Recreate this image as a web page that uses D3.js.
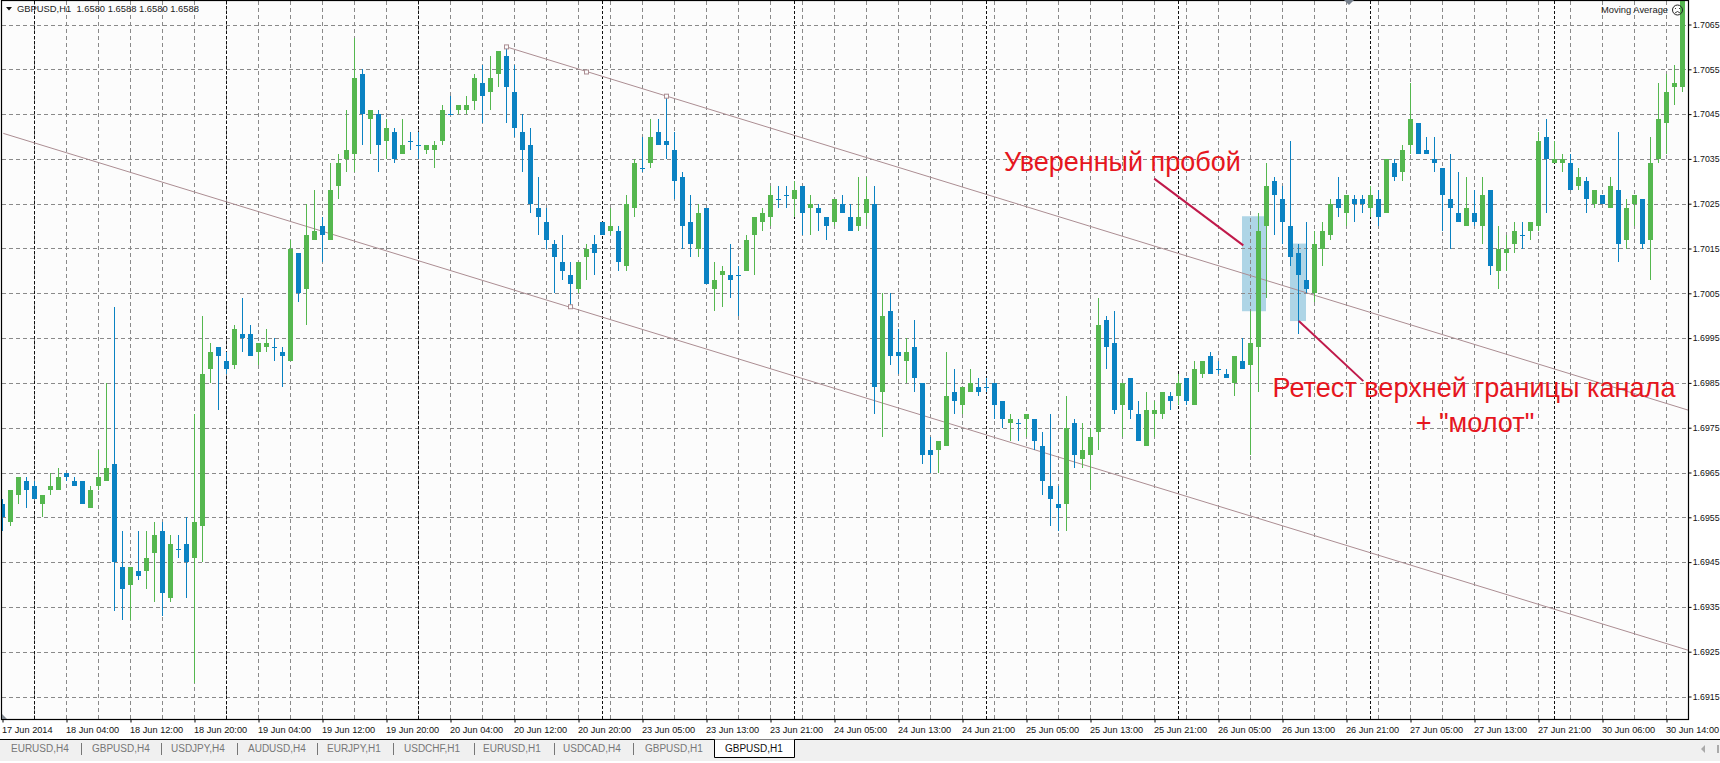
<!DOCTYPE html>
<html><head><meta charset="utf-8">
<script src="https://cdn.jsdelivr.net/npm/d3@7/dist/d3.min.js"></script>
<style>
html,body{margin:0;padding:0;background:#fff;overflow:hidden}
svg{display:block}
text{font-family:"Liberation Sans",Arial,sans-serif;white-space:pre}
</style></head><body>
<svg id="c" width="1720" height="763"></svg>
<script>
// All series in pips above 1.6900 (GBPUSD H1)
const openPips=[58,54,60,63,62,58,61,61,65,63,63,57,62,63,67,44,40,43,43,47,52,37,48,49,46,53,88,93,90,89,96,96,92,93,93,92,90,114,106,117,120,117,129,135,136,154,144,145,139,141,136,139,138,137,137,139,145,146,146,148,152,150,154,158,150,141,138,124,121,116,112,109,106,113,116,121,119,119,111,124,133,134,141,139,137,131,121,115,124,106,109,109,109,110,118,121,122,126,127,126,129,124,124,122,121,125,122,120,123,125,83,101,92,90,93,85,70,70,71,83,80,83,84,84,85,81,76,76,77,77,71,62,58,58,76,68,69,74,99,94,80,86,78,71,78,78,82,82,86,80,87,91,88,87,85,90,89,93,120,130,126,120,114,108,105,115,118,126,123,126,126,124,126,123,134,132,138,143,137,135,133,126,123,120,123,120,128,110,114,116,118,119,120,140,134,134,134,129,130,125,127,124,128,117,125,126,117,135,143,151,151];
const highPips=[59,61,64,64,63,60,65,66,65,64,63,62,70,85,102,52,44,52,52,54,54,51,51,55,78,100,94,93,92,98,104,98,94,97,95,93,117,114,125,128,122,134,136,146,162,155,146,146,144,142,144,141,141,138,139,147,149,147,149,154,156,158,159,160,156,145,142,131,124,117,118,112,112,116,118,121,124,120,127,135,140,144,144,149,141,132,127,125,124,112,111,116,111,118,122,124,129,129,129,130,129,127,125,122,126,127,125,131,131,129,105,105,97,95,99,85,73,72,92,88,84,88,86,86,85,81,78,77,78,77,74,78,62,82,77,76,75,104,100,101,85,86,81,83,81,83,83,87,86,90,90,92,90,88,91,95,101,123,134,131,129,139,116,121,119,121,126,131,127,127,127,129,128,135,135,138,152,143,140,140,133,136,132,131,128,131,128,120,118,121,121,121,141,144,139,136,136,133,131,128,127,131,141,126,127,126,140,152,154,156,171];
const lowPips=[52,53,58,57,59,55,60,61,63,62,58,57,61,63,34,32,32,41,39,36,33,36,46,37,18,45,85,79,87,88,92,91,89,92,90,84,90,103,98,117,112,117,126,132,132,138,136,132,135,134,136,137,135,136,133,138,145,145,145,146,143,146,151,143,140,132,123,118,115,105,108,102,105,108,109,118,118,110,110,122,132,133,138,135,126,115,113,113,107,101,102,104,100,110,109,119,120,124,124,122,118,118,119,117,120,123,119,119,120,78,73,89,87,85,83,67,65,65,71,78,78,83,82,83,77,75,72,72,73,70,60,53,52,52,66,66,61,70,88,78,73,77,72,71,73,77,79,80,80,80,86,87,87,86,82,88,69,83,104,118,116,111,96,105,103,111,117,122,120,121,123,122,120,123,130,130,136,136,136,132,119,115,121,120,120,116,109,106,110,114,115,117,119,123,134,132,128,128,123,124,125,124,112,115,120,115,108,134,136,147,150];
const closePips=[55,61,64,61,59,60,62,64,64,62,58,61,64,66,45,39,44,42,46,51,38,49,48,45,54,87,92,91,88,97,95,91,94,94,93,91,115,105,118,119,118,128,134,137,153,145,146,138,142,135,138,139,138,138,138,146,145,147,147,153,149,153,159,151,142,137,125,122,117,113,110,107,112,115,114,118,120,112,125,134,133,140,138,138,130,120,116,123,107,108,110,108,109,117,122,123,127,126,127,128,123,125,123,120,126,123,119,122,126,84,100,91,91,92,86,69,69,72,82,81,84,85,83,84,80,77,77,76,78,72,63,59,57,75,69,70,73,98,93,79,85,79,72,79,79,83,81,85,81,88,90,87,88,86,91,88,94,119,129,127,121,113,109,106,116,119,125,124,127,125,125,127,122,135,131,137,144,136,136,134,127,124,121,124,121,127,111,115,115,119,118,121,139,135,135,135,128,131,126,128,125,129,116,124,127,116,134,144,150,152,171];

const timeLabels=["17 Jun 2014","18 Jun 04:00","18 Jun 12:00","18 Jun 20:00","19 Jun 04:00","19 Jun 12:00","19 Jun 20:00","20 Jun 04:00","20 Jun 12:00","20 Jun 20:00","23 Jun 05:00","23 Jun 13:00","23 Jun 21:00","24 Jun 05:00","24 Jun 13:00","24 Jun 21:00","25 Jun 05:00","25 Jun 13:00","25 Jun 21:00","26 Jun 05:00","26 Jun 13:00","26 Jun 21:00","27 Jun 05:00","27 Jun 13:00","27 Jun 21:00","30 Jun 06:00","30 Jun 14:00"];
const priceTicks=[1.6915,1.6925,1.6935,1.6945,1.6955,1.6965,1.6975,1.6985,1.6995,1.7005,1.7015,1.7025,1.7035,1.7045,1.7055,1.7065];
const daySeparators=[4,28,52,75,99,123,147,171,194];
// channel lines: [bar, pips]
const channelUpper=[[63,160],[210.75,78.9]];
const channelLower=[[0.1,140.7],[210.75,25.3]];
const anchors=[[63,160],[73,154.4],[83,149],[71,102]];
// highlight boxes: [bar from, bar to, pips top, pips bottom]
const boxes=[[155,158,122.2,101],[161,163,116.1,98.8]];
// arrows
const arrows=[[[143.96,130.6],[155.1,115.7]],[[162.04,98.8],[170.1,85.4]]];
const tabNames=["EURUSD,H4","GBPUSD,H4","USDJPY,H4","AUDUSD,H4","EURJPY,H1","USDCHF,H1","EURUSD,H1","USDCAD,H4","GBPUSD,H1"];

const price=p=>1.69+p/10000;
const GREEN="#55b74f",BLUE="#0a82c2",LINE="#ab8d92";
const svg=d3.select("#c");
const x=d3.scaleLinear().domain([0,210]).range([2.5,1682.5]);
const y=d3.scaleLinear().domain([1.6915,1.7065]).range([696.5,24.5]);
const L=1.5,R=1688.5,T=0.5,B=719.5;

svg.append("rect").attr("width",1720).attr("height",763).attr("fill","#fff");
svg.append("rect").attr("x",L).attr("y",T).attr("width",R-L).attr("height",B-T).attr("fill","#fcfcfc");
svg.append("clipPath").attr("id","clip").append("rect").attr("x",L).attr("y",T).attr("width",R-L).attr("height",B-T);
const plot=svg.append("g").attr("clip-path","url(#clip)");

// highlight boxes
plot.append("g").selectAll("rect").data(boxes).join("rect")
 .attr("x",d=>x(d[0])-.5).attr("width",d=>x(d[1])-x(d[0]))
 .attr("y",d=>y(price(d[2]))).attr("height",d=>y(price(d[3]))-y(price(d[2])))
 .attr("fill","#aed5e6");

// grid
const grid=plot.append("g").attr("shape-rendering","crispEdges");
grid.selectAll(".h").data(priceTicks).join("line").attr("x1",L).attr("x2",R)
 .attr("y1",d=>Math.round(y(d))+.5).attr("y2",d=>Math.round(y(d))+.5)
 .attr("stroke","#8a8a8a").attr("stroke-dasharray","4,3");
grid.selectAll(".v").data(d3.range(4,211,4)).join("line").attr("x1",d=>x(d)).attr("x2",d=>x(d))
 .attr("y1",T).attr("y2",B).attr("stroke","#8a8a8a").attr("stroke-dasharray","4,3");
grid.selectAll(".d").data(daySeparators).join("line").attr("x1",d=>x(d)).attr("x2",d=>x(d))
 .attr("y1",T).attr("y2",B).attr("stroke","#111").attr("stroke-dasharray","3,2");

// channel lines
const ln=d3.line().x(d=>x(d[0])).y(d=>y(price(d[1])));
plot.append("g").selectAll("path").data([channelUpper,channelLower]).join("path")
 .attr("d",ln).attr("fill","none").attr("stroke",LINE).attr("stroke-width",1);

// candles
const bars=d3.range(openPips.length).map(i=>({i,o:price(openPips[i]),h:price(highPips[i]),l:price(lowPips[i]),c:price(closePips[i])}));
const col=d=>closePips[d.i]>openPips[d.i]?GREEN:BLUE;
const cg=plot.append("g").attr("shape-rendering","crispEdges");
cg.selectAll(".w").data(bars).join("rect")
 .attr("x",d=>x(d.i)-.5).attr("width",1)
 .attr("y",d=>y(d.h)).attr("height",d=>Math.max(1,y(d.l)-y(d.h))).attr("fill",col);
cg.selectAll(".b").data(bars).join("rect")
 .attr("x",d=>x(d.i)-2.5).attr("width",5)
 .attr("y",d=>y(Math.max(d.o,d.c))).attr("height",d=>Math.max(1,Math.abs(y(d.o)-y(d.c)))).attr("fill",col);

// anchors
plot.append("g").selectAll("rect").data(anchors).join("rect")
 .attr("x",d=>x(d[0])-2).attr("y",d=>y(price(d[1]))-2).attr("width",4).attr("height",4)
 .attr("fill","#fcfcfc").attr("stroke",LINE).attr("stroke-width",1);

// frame + axes
svg.append("rect").attr("x",L).attr("y",T).attr("width",R-L).attr("height",B-T)
 .attr("fill","none").attr("stroke","#000").attr("stroke-width",1.2);
const ay=svg.append("g").attr("transform",`translate(${R},0)`)
 .call(d3.axisRight(y).tickValues(priceTicks).tickFormat(d3.format(".4f")).tickSize(3).tickPadding(1.2));
ay.select(".domain").remove();
ay.selectAll("text").attr("font-size",8.8).attr("fill","#111").attr("font-family","Liberation Sans");
const ax=svg.append("g").attr("transform",`translate(0,${B})`)
 .call(d3.axisBottom(x).tickValues(d3.range(0,timeLabels.length).map(k=>k*8)).tickFormat(d=>timeLabels[d/8]).tickSize(3).tickPadding(4));
ax.select(".domain").remove();
ax.selectAll("text").attr("text-anchor","start").attr("x",-1).attr("font-size",9.2).attr("fill","#111").attr("font-family","Liberation Sans");

// header
svg.append("path").attr("d","M6 7L12 7L9 10.5Z").attr("fill","#111");
svg.append("text").attr("x",17).attr("y",12).attr("font-size",9.4).attr("fill","#222").text("GBPUSD,H1  1.6580 1.6588 1.6580 1.6588");
svg.append("text").attr("x",1601).attr("y",13).attr("font-size",9.4).attr("fill","#222").text("Moving Average");
svg.append("circle").attr("cx",1677.5).attr("cy",10).attr("r",5).attr("fill","none").attr("stroke","#222");
svg.append("path").attr("d","M1675 8.5h1M1679 8.5h1M1675 13q2.5-3 5 0").attr("fill","none").attr("stroke","#222").attr("stroke-width",.9);
svg.append("path").attr("d","M1344 0L1354 0L1349 5Z").attr("fill","#76808c");
svg.append("path").attr("d","M2 714L7 719L2 719Z").attr("fill","#808890");

// arrows
svg.append("g").selectAll("path").data(arrows).join("path").attr("d",ln)
 .attr("stroke","#c0194a").attr("stroke-width",2).attr("fill","none");

// annotations
const red="#e6161e";
svg.append("text").attr("x",1004).attr("y",171).attr("font-size",27).attr("fill",red).text("Уверенный пробой");
svg.append("text").attr("x",1474).attr("y",397).attr("text-anchor","middle").attr("font-size",27.1).attr("fill",red).text("Ретест верхней границы канала");
svg.append("text").attr("x",1475).attr("y",432).attr("text-anchor","middle").attr("font-size",27.1).attr("fill",red).text('+ "молот"');

// tab bar
const tabs=svg.append("g");
tabs.append("rect").attr("x",0).attr("y",739).attr("width",1720).attr("height",22).attr("fill","#f0f0f0");
tabs.append("line").attr("x1",0).attr("x2",1720).attr("y1",739.5).attr("y2",739.5).attr("stroke","#000");
const tabX=[11,92,171,248,327,404,483,563,645], sepX=[81.5,161.5,237.5,317.5,393.5,474.5,554.5,633.5];
tabs.selectAll(".s").data(sepX).join("line").attr("x1",d=>d).attr("x2",d=>d).attr("y1",743).attr("y2",755).attr("stroke","#777");
tabs.selectAll("text.t").data(tabNames).join("text").attr("class","t").attr("x",(d,i)=>tabX[i]).attr("y",752)
 .attr("font-size",10).attr("fill","#777").text(d=>d);
tabs.append("path").attr("d","M714.5 739.5V757.5H794.5V739.5").attr("fill","#fff").attr("stroke","#000");
tabs.append("text").attr("x",725).attr("y",752).attr("font-size",10).attr("fill","#111").text("GBPUSD,H1");
tabs.append("path").attr("d","M1705 745V753L1701 749Z").attr("fill","#aaa");
tabs.append("rect").attr("x",1717).attr("y",745).attr("width",2).attr("height",8).attr("fill","#aaa");
</script></body></html>
